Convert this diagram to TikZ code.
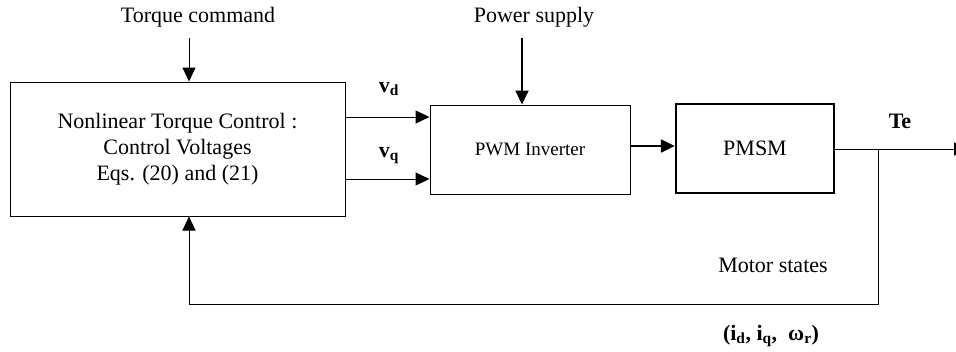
\documentclass[tikz,border=0pt]{standalone}
\usepackage{fontspec}
\setmainfont{Liberation Serif}
\usetikzlibrary{arrows.meta}
\begin{document}
\begin{tikzpicture}[x=1pt,y=-1pt,
  every node/.style={font=\fontsize{22}{26}\selectfont},
  blk/.style={draw,line width=1pt,inner sep=0pt,align=center},
  arr/.style={line width=1pt,-{Triangle[length=14pt,width=13pt]}},
  thickarr/.style={line width=2.5pt,-{Triangle[length=14pt,width=13pt]}},
  medarr/.style={line width=2pt,-{Triangle[length=14pt,width=13pt]}},
  lbl/.style={inner sep=0pt}]
\useasboundingbox (0,0) rectangle (956,351);
% blocks
\node[blk,minimum width=335pt,minimum height=134pt] (ctrl) at (177.5,149)
  {Nonlinear Torque Control :\\Control Voltages\\Eqs. (20) and (21)};
\node[blk,minimum width=200pt,minimum height=89pt,font=\fontsize{19}{22}\selectfont] (pwm) at (530,149.5) {PWM Inverter};
\node[blk,line width=2.5pt,minimum width=158pt,minimum height=89pt] (pmsm) at (755,148.5) {PMSM};
% labels
\node[lbl] (tc) at (198,17) {Torque command};
\node[lbl] (ps) at (534,17) {Power supply};
\node[lbl] (vd) at (389,89) {\textbf{v\textsubscript{d}}};
\node[lbl] (vq) at (389,156) {\textbf{v\textsubscript{q}}};
\node[lbl] (te) at (900,121) {\textbf{Te}};
\node[lbl] (ms) at (773,265) {Motor states};
\node[lbl] (st) at (771,336) {\textbf{(i\textsubscript{d}, i\textsubscript{q},\ \ ω\textsubscript{r})}};
% coordinates
\coordinate (tcs) at (189,38);
\coordinate (pss) at (522,38);
\coordinate (vdc) at (0,117);
\coordinate (vqc) at (0,179);
\coordinate (ppc) at (0,146);
\coordinate (j) at (878,149);
\coordinate (outend) at (968,149);
\coordinate (bc) at (878,304);
% connectors
\draw[arr] (tcs) -- (tcs |- ctrl.north);
\draw[medarr] (pss) -- (pss |- pwm.north);
\draw[arr] (ctrl.east |- vdc) -- (pwm.west |- vdc);
\draw[arr] (ctrl.east |- vqc) -- (pwm.west |- vqc);
\draw[thickarr] (pwm.east |- ppc) -- (pmsm.west |- ppc);
\draw[arr] (pmsm.east |- j) -- (outend);
\draw[arr] (j) -- (bc) -- (tcs |- bc) -- (tcs |- ctrl.south);
\end{tikzpicture}
\end{document}
